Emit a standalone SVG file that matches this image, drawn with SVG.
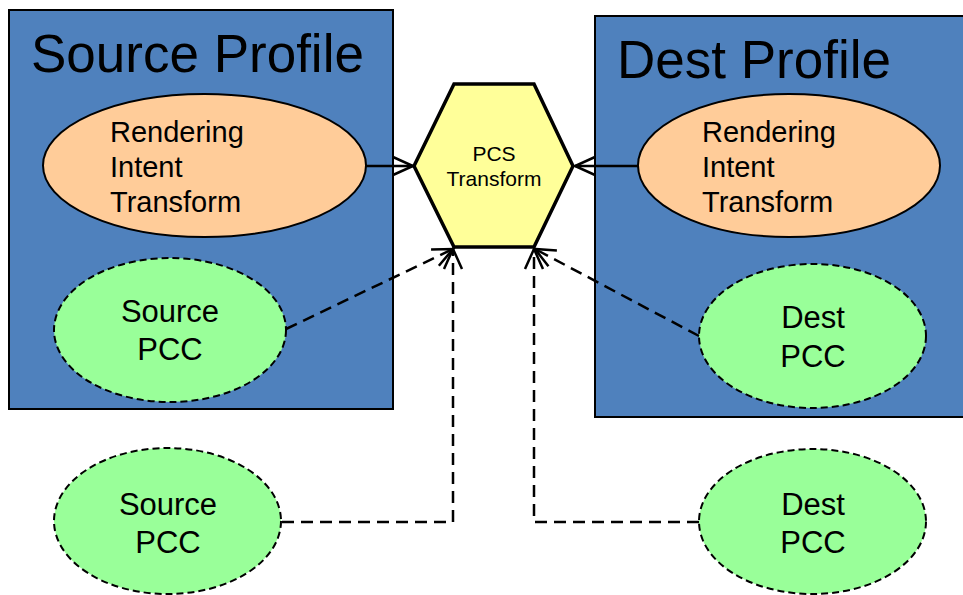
<svg xmlns="http://www.w3.org/2000/svg" width="963" height="595" viewBox="0 0 963 595">
<defs>
<style>
text{font-family:"Liberation Sans",Arial,sans-serif;fill:#000}
.box{fill:#4F81BD;stroke:#000;stroke-width:2}
.title{font-size:53px}
.rit{fill:#FFCC99;stroke:#000;stroke-width:2}
.pcc{fill:#99FF99;stroke:#000;stroke-width:2;stroke-dasharray:7 4}
.lbl{font-size:29px}
.pccl{font-size:31px;text-anchor:middle}
.hex{fill:#FFFF99;stroke:#000;stroke-width:3.5}
.hexl{font-size:21px;text-anchor:middle}
.solid{fill:none;stroke:#000;stroke-width:2.5;marker-end:url(#arr)}
.dash{fill:none;stroke:#000;stroke-width:2.5;stroke-dasharray:12 7;marker-end:url(#arr)}
</style>
<marker id="arr" markerUnits="userSpaceOnUse" viewBox="-25 -15 30 30" refX="0" refY="0" markerWidth="30" markerHeight="30" orient="auto" overflow="visible">
<path d="M-20,-9 L0,0 L-20,9" fill="none" stroke="#000" stroke-width="2.5"/>
</marker>
</defs>
<rect width="963" height="595" fill="#fff"/>
<g id="source-profile">
<rect class="box" x="9" y="10" width="384" height="399"/>
<text class="title" x="31" y="72">Source Profile</text>
</g>
<g id="dest-profile">
<rect class="box" x="595" y="16" width="372" height="401"/>
<text class="title" x="617" y="78">Dest Profile</text>
</g>
<g id="source-rit">
<ellipse class="rit" cx="204.5" cy="165.5" rx="161.5" ry="71.5"/>
<text class="lbl" x="110" y="142">Rendering</text>
<text class="lbl" x="110" y="177">Intent</text>
<text class="lbl" x="110" y="212">Transform</text>
</g>
<g id="dest-rit">
<ellipse class="rit" cx="789" cy="165.5" rx="151" ry="71.5"/>
<text class="lbl" x="702" y="142">Rendering</text>
<text class="lbl" x="702" y="177">Intent</text>
<text class="lbl" x="702" y="212">Transform</text>
</g>
<g id="source-pcc-in">
<ellipse class="pcc" cx="170" cy="330" rx="116" ry="72"/>
<text class="pccl" x="170" y="322">Source</text>
<text class="pccl" x="170" y="360">PCC</text>
</g>
<g id="dest-pcc-in">
<ellipse class="pcc" cx="812.5" cy="336" rx="113.5" ry="72"/>
<text class="pccl" x="813" y="328">Dest</text>
<text class="pccl" x="813" y="367">PCC</text>
</g>
<g id="source-pcc-out">
<ellipse class="pcc" cx="167.5" cy="521" rx="113.5" ry="73"/>
<text class="pccl" x="168" y="515">Source</text>
<text class="pccl" x="168" y="553">PCC</text>
</g>
<g id="dest-pcc-out">
<ellipse class="pcc" cx="812.5" cy="521.5" rx="113.5" ry="72.5"/>
<text class="pccl" x="813" y="515">Dest</text>
<text class="pccl" x="813" y="553">PCC</text>
</g>
<g id="pcs-transform">
<polygon class="hex" points="454,84 534,84 573,166 534,247 454,247 414,166"/>
<text class="hexl" x="494" y="161">PCS</text>
<text class="hexl" x="494" y="186">Transform</text>
</g>
<g id="connectors">
<path class="solid" d="M366,166 L413,166"/>
<path class="solid" d="M638,166 L575,166"/>
<path class="dash" d="M286,329 L453,249"/>
<path class="dash" d="M699,336 L535,249"/>
<path class="dash" d="M282,522 L453,522 L453,249"/>
<path class="dash" d="M699,522 L534,522 L534,249"/>
</g>
</svg>
